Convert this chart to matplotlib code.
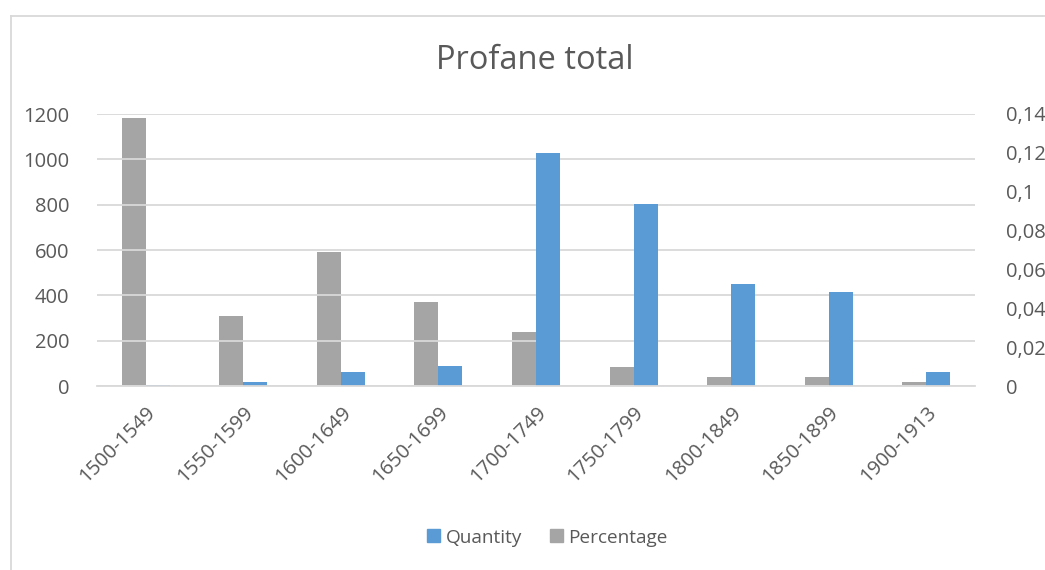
import matplotlib
matplotlib.use("Agg")
import matplotlib.pyplot as plt
import numpy as np
from matplotlib.lines import Line2D
from matplotlib.patches import Patch

categories = ["1500-1549", "1550-1599", "1600-1649", "1650-1699", "1700-1749",
              "1750-1799", "1800-1849", "1850-1899", "1900-1913"]
quantity = [3, 16, 62, 87, 1028, 803, 450, 415, 62]
percentage = [0.138, 0.036, 0.069, 0.043, 0.028, 0.010, 0.0045, 0.0045, 0.0019]
left_ticks = [0, 200, 400, 600, 800, 1000, 1200]
right_ticks = [0, 0.02, 0.04, 0.06, 0.08, 0.1, 0.12, 0.14]
right_labels = ["0", "0,02", "0,04", "0,06", "0,08", "0,1", "0,12", "0,14"]

plt.rcParams['font.family'] = ['Open Sans', 'DejaVu Sans']
txt = '#595959'
blue = '#5b9bd5'
gray = '#a5a5a5'
grid = '#d9d9d9'

fig = plt.figure(figsize=(10.45, 5.7), dpi=100)
ax = fig.add_axes([0.0928, 0.3228, 0.8402, 0.4772])
ax2 = ax.twinx()

x = np.arange(len(categories))
w = 0.246
ax2.bar(x - w/2, percentage, width=w, color=gray, zorder=2)
ax.bar(x + w/2, quantity, width=w, color=blue, zorder=2)

ax.set_xlim(-0.5, len(categories) - 0.5)
ax.set_ylim(0, 1200)
ax2.set_ylim(0, 0.14)
ax.set_yticks(left_ticks)
ax.set_yticklabels([str(t) for t in left_ticks])
ax2.set_yticks(right_ticks)
ax2.set_yticklabels(right_labels)

ax.set_zorder(ax2.get_zorder() + 1)
ax.patch.set_visible(False)
ax.yaxis.grid(True, color=grid, linewidth=1.3, zorder=0)
ax.set_axisbelow(True)

for a in (ax, ax2):
    for s in a.spines.values():
        s.set_visible(False)
    a.tick_params(axis='both', length=0, colors=txt, labelsize=14.5)
ax.spines['bottom'].set_visible(True)
ax.spines['bottom'].set_color(grid)
ax.spines['bottom'].set_linewidth(1.3)
ax.tick_params(axis='y', pad=20)
ax2.tick_params(axis='y', pad=22)

ax.set_xticks(x)
ax.set_xticklabels(categories, rotation=45, ha='right', rotation_mode='anchor')
ax.tick_params(axis='x', pad=12)

fig.text(0.512, 0.893, "Profane total", ha='center', va='center', fontsize=23.5, color=txt)

handles = [Patch(color=blue, label='Quantity'), Patch(color=gray, label='Percentage')]
fig.legend(handles=handles, loc='center', bbox_to_anchor=(0.524, 0.057), ncol=2,
           frameon=False, fontsize=13.7, labelcolor=txt, handlelength=0.65, handleheight=0.65,
           handletextpad=0.3, columnspacing=1.5)

fig.add_artist(Line2D([11/1045, 11/1045], [0, 1 - 15.5/570], color=grid, linewidth=1.3, transform=fig.transFigure))
fig.add_artist(Line2D([11/1045, 1044/1045], [1 - 15.5/570, 1 - 15.5/570], color=grid, linewidth=1.3, transform=fig.transFigure))

fig.savefig("out.png", dpi=100)
